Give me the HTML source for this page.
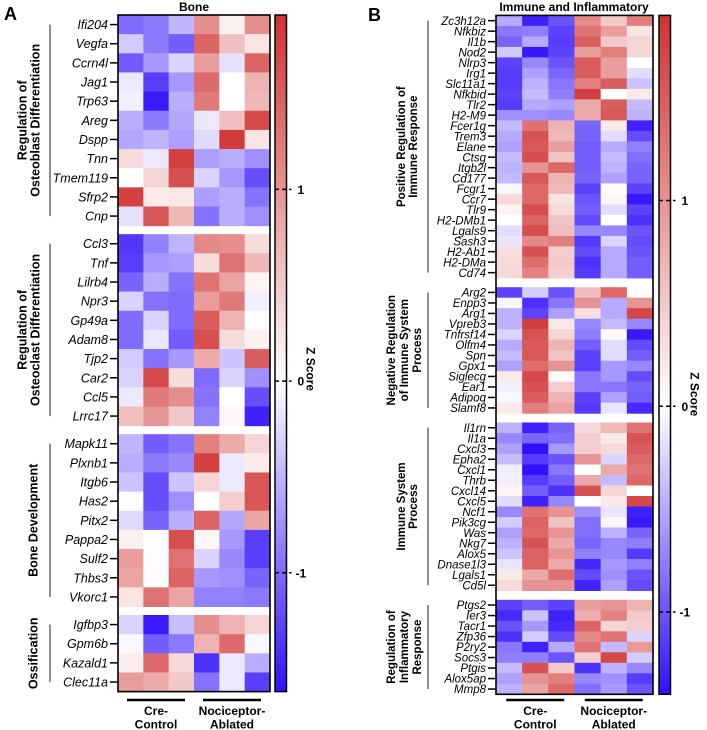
<!DOCTYPE html>
<html><head><meta charset="utf-8"><style>
body{margin:0;background:#fff;}
svg{display:block;font-family:"Liberation Sans",Arial,sans-serif;}
</style></head><body>
<svg id="chart" width="707" height="730" viewBox="0 0 707 730" xmlns="http://www.w3.org/2000/svg">
<defs>
<linearGradient id="gA" x1="0" y1="0" x2="0" y2="1">
<stop offset="0" stop-color="rgb(208,50,50)"/><stop offset="0.541" stop-color="#fff"/><stop offset="1" stop-color="rgb(48,16,250)"/></linearGradient>
<linearGradient id="gB" x1="0" y1="0" x2="0" y2="1">
<stop offset="0" stop-color="rgb(208,50,50)"/><stop offset="0.5758" stop-color="#fff"/><stop offset="1" stop-color="rgb(48,16,250)"/></linearGradient>
</defs>
<text x="4" y="20" font-size="18" font-weight="bold">A</text>
<text x="368" y="21" font-size="18" font-weight="bold">B</text>
<text x="194" y="11" font-size="12" font-weight="bold" text-anchor="middle">Bone</text>
<text x="574" y="11" font-size="12" font-weight="bold" text-anchor="middle">Immune and Inflammatory</text>
</svg>
<script>
const genesA1=["Ifi204","Vegfa","Ccrn4l","Jag1","Trp63","Areg","Dspp","Tnn","Tmem119","Sfrp2","Cnp"];
const valsA1=[[-1.0,-0.9,-0.5,1.05,0.13,1.05],[-0.35,-0.9,-1.1,1.44,0.59,0.26],[-1.1,-0.7,-0.3,0.92,-0.2,1.44],[-0.15,-1.3,-0.7,1.38,0.0,0.72],[-0.1,-1.55,-0.55,1.24,0.0,0.66],[-0.55,-0.9,-0.6,-0.15,0.59,1.7],[-0.6,-0.5,-0.65,-0.25,1.83,0.26],[0.33,-0.15,1.77,-0.65,-0.55,-0.75],[0.0,0.39,1.64,-0.3,-0.7,-1.2],[1.77,0.2,0.23,-0.65,-0.55,-0.95],[-0.2,1.57,0.66,-0.95,-0.55,-0.75]];
const genesA2=["Ccl3","Tnf","Lilrb4","Npr3","Gp49a","Adam8","Tjp2","Car2","Ccl5","Lrrc17"];
const valsA2=[[-1.35,-0.85,-0.5,1.11,1.05,0.33],[-1.3,-0.7,-0.65,0.33,1.31,0.66],[-1.05,-0.55,-0.95,1.31,0.85,0.1],[-0.3,-0.95,-1.0,0.92,1.24,-0.1],[-1.0,-0.3,-1.0,1.51,0.72,0.03],[-1.0,-0.15,-1.1,1.64,0.33,0.13],[-0.35,-0.95,-0.7,0.79,-0.4,1.51],[-0.3,1.7,0.33,-1.0,-0.3,-0.75],[-0.15,1.24,1.05,-0.95,0.0,-1.2],[0.59,0.98,0.52,-0.85,0.07,-1.5]];
const genesA3=["Mapk11","Plxnb1","Itgb6","Has2","Pitx2","Pappa2","Sulf2","Thbs3","Vkorc1"];
const valsA3=[[-0.5,-1.1,-0.95,1.18,0.79,0.39],[-0.55,-0.9,-0.8,1.77,-0.15,0.2],[-0.4,-1.2,-0.4,0.39,-0.15,1.57],[0.03,-1.2,-0.75,0.0,0.46,1.57],[-0.25,-1.05,-0.55,1.44,-0.6,0.85],[0.13,0.0,1.64,0.07,-0.7,-1.3],[0.92,0.03,1.31,-0.3,-0.8,-1.3],[0.85,0.03,1.44,-0.7,-0.75,-1.05],[0.26,1.31,0.85,-0.85,-0.85,-0.9]];
const genesA4=["Igfbp3","Gpm6b","Kazald1","Clec11a"];
const valsA4=[[-0.3,-1.55,-0.45,1.05,0.72,0.39],[-0.05,-1.1,-0.9,0.72,1.38,-0.05],[0.16,1.38,0.36,-1.4,-0.15,-0.55],[0.92,0.79,0.52,-0.95,-0.15,-1.3]];
const genesB1=["Zc3h12a","Nfkbiz","Il1b","Nod2","Nlrp3","Irg1","Slc11a1","Nfkbid","Tlr2","H2-M9","Fcer1g","Trem3","Elane","Ctsg","Itgb2l","Cd177","Fcgr1","Ccr7","Tlr9","H2-DMb1","Lgals9","Sash3","H2-Ab1","H2-DMa","Cd74"];
const valsB1=[[-0.5,-1.3,-1.0,1.1,0.5,1.2],[-0.8,-0.75,-1.1,1.3,0.9,0.25],[-0.9,-0.5,-1.15,1.5,0.5,0.4],[-0.3,-1.35,-1.1,0.9,1.2,0.4],[-1.1,-0.7,-1.0,1.5,0.9,0.0],[-1.15,-0.55,-0.9,1.5,0.9,-0.2],[-1.15,-0.45,-0.8,1.2,1.5,-0.35],[-1.1,-0.4,-0.75,1.8,0.0,0.2],[-1.15,-0.5,-0.55,0.8,1.5,-0.4],[-0.65,-0.65,-0.7,0.8,1.55,-0.45],[-0.4,1.3,0.7,-0.9,0.2,-1.3],[-0.5,1.6,0.65,-0.9,-0.2,-1.05],[-0.55,1.55,0.9,-0.95,-0.5,-0.75],[-0.4,1.65,0.55,-0.95,-0.4,-0.85],[-0.45,1.0,1.4,-0.95,-0.45,-0.9],[-0.4,1.55,0.7,-0.9,-0.55,-0.9],[-0.05,1.4,0.65,-1.1,0.05,-1.1],[0.35,1.4,0.25,-1.0,0.1,-1.35],[0.1,1.65,0.35,-0.95,-0.2,-1.1],[0.0,1.45,0.55,-1.05,0.0,-1.2],[-0.2,1.65,0.6,-0.7,-0.7,-1.0],[-0.15,1.1,1.2,-1.15,-0.25,-1.05],[0.3,1.6,0.45,-1.05,-0.5,-1.0],[0.35,1.35,0.5,-1.2,-0.5,-0.95],[0.35,1.15,0.45,-1.15,-0.5,-0.95]];
const genesB2=["Arg2","Enpp3","Arg1","Vpreb3","Tnfrsf14","Olfm4","Spn","Gpx1","Siglecg","Ear1","Adipoq","Slamf8"];
const valsB2=[[-1.1,-0.3,-1.0,0.6,1.4,0.05],[-0.05,-1.2,-0.8,1.0,-0.5,1.0],[-0.45,-1.1,-0.55,0.3,-0.5,1.7],[-0.45,1.8,0.2,-0.7,-0.4,-0.7],[-0.25,1.6,0.4,-0.75,0.05,-1.35],[-0.5,1.55,0.7,-0.95,-0.2,-1.05],[-0.4,1.55,0.55,-1.1,-0.2,-0.95],[-0.55,1.35,1.0,-1.1,-0.6,-0.7],[0.2,1.7,0.05,-0.8,-0.6,-1.05],[-0.1,1.6,0.45,-0.8,-0.8,-0.9],[-0.05,1.5,0.7,-1.1,-0.55,-0.95],[0.2,1.2,0.85,-1.15,-0.15,-1.25]];
const genesB3=["Il1rn","Il1a","Cxcl3","Epha2","Cxcl1","Thrb","Cxcl14","Cxcl5","Ncf1","Pik3cg","Was","Nkg7","Alox5","Dnase1l3","Lgals1","Cd5l"];
const valsB3=[[-0.45,-1.3,-0.9,0.35,0.65,1.3],[-0.7,-0.9,-0.85,0.45,0.2,1.6],[-0.55,-1.4,-0.6,0.45,0.35,1.5],[-0.4,-1.15,-1.0,1.0,-0.25,1.4],[-0.1,-1.4,-0.8,0.0,0.8,1.3],[-0.1,-1.15,-0.95,0.8,-0.4,1.4],[0.1,-0.95,-1.2,1.6,0.4,0.0],[-0.2,-1.3,-0.7,0.0,0.2,1.7],[-0.7,1.3,1.0,-0.65,-0.15,-1.3],[-0.3,1.45,0.55,-0.85,0.1,-1.35],[-0.55,1.4,1.0,-0.85,-0.45,-0.9],[-0.45,1.6,0.8,-0.9,-0.7,-0.75],[-0.35,1.45,1.0,-0.75,-0.7,-1.15],[-0.15,1.45,0.8,-1.25,-0.6,-0.75],[0.2,0.8,1.35,-1.05,-0.65,-1.0],[0.35,1.0,1.0,-1.3,-0.55,-1.05]];
const genesB4=["Ptgs2","Ier3","Tacr1","Zfp36","P2ry2","Socs3","Ptgis","Alox5ap","Mmp8"];
const valsB4=[[-1.1,-0.95,-1.1,0.9,1.0,0.7],[-1.25,-0.35,-1.3,0.75,1.15,0.5],[-1.0,-0.6,-1.25,1.45,0.4,0.45],[-1.2,-0.3,-1.05,1.1,1.3,-0.25],[-0.8,-1.3,-0.5,1.3,-0.4,0.95],[-0.75,-0.75,-1.0,0.45,1.7,-0.3],[-0.4,1.6,0.5,-1.2,-0.45,-0.7],[-0.55,1.0,1.2,-0.7,-0.65,-1.15],[-0.45,0.85,1.4,-0.85,-0.6,-1.0]];
const ticksZ=[1,0,-1];
const tickLabels=["1","0","-1"];

const NS="http://www.w3.org/2000/svg";
const svg=document.getElementById('chart');
function mk(tag,attrs,parent){const e=document.createElementNS(NS,tag);for(const k in attrs)e.setAttribute(k,attrs[k]);(parent||svg).appendChild(e);return e;}
function color(v,mx,mn){
  if(v>=0){const t=Math.min(v/mx,1);return `rgb(${Math.round(255+(208-255)*t)},${Math.round(255+(50-255)*t)},${Math.round(255+(50-255)*t)})`;}
  const t=Math.min(v/mn,1);return `rgb(${Math.round(255+(48-255)*t)},${Math.round(255+(16-255)*t)},${Math.round(255+(250-255)*t)})`;
}
function panel(cfg){
  const g=mk('g',{});
  
  
  const cw=(cfg.x1-cfg.x0)/6;
  let y=cfg.top;
  cfg.groups.forEach((grp,gi)=>{
    const y0=y;
    grp.vals.forEach((row,ri)=>{
      row.forEach((v,ci)=>{
        const r=mk('rect',{x:cfg.x0+ci*cw,y:y,width:cw+0.5,height:cfg.rh+0.5,fill:color(v,cfg.max,cfg.min)},g);
        
        
      });
      const t=mk('text',{x:cfg.x0-10,y:y+cfg.rh/2+cfg.fs*0.36,'font-size':cfg.fs,'font-style':'italic','text-anchor':'end'},g);
      t.textContent=grp.genes[ri];
      
      
      mk('line',{x1:cfg.x0-8,x2:cfg.x0,y1:y+cfg.rh/2,y2:y+cfg.rh/2,stroke:'#000','stroke-width':1.5},g);
      y+=cfg.rh;
    });
    const y1=y;
    const br=mk('line',{x1:cfg.bx,x2:cfg.bx,y1:y0+cfg.rh*0.5,y2:y1-cfg.rh*0.5,stroke:'#555','stroke-width':1.3},g);
    
    
    const cy=(y0+y1)/2;
    grp.label.forEach((ln,li)=>{
      const lx=grp.lx[li];
      const t=mk('text',{x:lx,y:cy,'font-size':cfg.gfs,'font-weight':'bold','text-anchor':'middle',transform:`rotate(-90 ${lx} ${cy})`,'dominant-baseline':'middle'},g);
      t.textContent=ln;
      
      
    });
    if(gi<cfg.groups.length-1)y+=cfg.gap;
  });
  const bottom=y;
  mk('rect',{x:cfg.x0,y:cfg.top,width:cfg.x1-cfg.x0,height:bottom-cfg.top,fill:'none',stroke:'#000','stroke-width':1.6},g);
  const cb=mk('rect',{x:cfg.cbx,y:cfg.top,width:cfg.cbw,height:bottom-cfg.top,fill:cfg.grad,stroke:'#000','stroke-width':1.5},g);
  
  
  const sc=v=>cfg.top+(cfg.max-v)/(cfg.max-cfg.min)*(bottom-cfg.top);
  ticksZ.forEach((tv,i)=>{
    const ty=sc(tv);
    mk('line',{x1:cfg.cbx,x2:cfg.cbx+cfg.cbw+5,y1:ty,y2:ty,stroke:'#000','stroke-width':1.5,'stroke-dasharray':'4,3'},g);
    const t=mk('text',{x:cfg.cbx+cfg.cbw+(tv<0?9:11),y:ty+4.5,'font-size':12,'font-weight':'bold'},g);
    t.textContent=tickLabels[i];
    
    
  });
  const zx=cfg.cbx+cfg.cbw+20, zy=sc(0)-12;
  const z=mk('text',{x:zx,y:zy,'font-size':12,'font-weight':'bold','text-anchor':'middle',transform:`rotate(90 ${zx} ${zy})`},g);
  z.textContent='Z Score';
  
  
  const cx=[cfg.x0+cw*1.5,cfg.x0+cw*4.5];
  const names=[["Cre-","Control"],["Nociceptor-","Ablated"]];
  cx.forEach((c,i)=>{
    mk('line',{x1:c-29,x2:c+29,y1:700,y2:700,stroke:'#000','stroke-width':2.5},g);
    names[i].forEach((n,j)=>{
      const t=mk('text',{x:c,y:715+j*13.5,'font-size':12,'font-weight':'bold','text-anchor':'middle'},g);
      t.textContent=n;
      
      
    });
  });
}
panel({name:'bone-heatmap',x0:118,x1:270,top:15,rh:19.15,gap:8.5,max:1.91,min:-1.62,fs:12.5,gfs:12.5,bx:50,cbx:275,cbw:11.5,grad:'url(#gA)',
  groups:[{genes:genesA1,vals:valsA1,label:["Regulation of","Osteoblast Differentiation"],lx:[23,36]},
          {genes:genesA2,vals:valsA2,label:["Regulation of","Osteoclast Differentiation"],lx:[23,36]},
          {genes:genesA3,vals:valsA3,label:["Bone Development"],lx:[34]},
          {genes:genesA4,vals:valsA4,label:["Ossification"],lx:[34]}]});
panel({name:'immune-heatmap',x0:496,x1:653,top:15.4,rh:10.5,gap:9.3,max:1.9,min:-1.4,fs:11.5,gfs:11.5,bx:428,cbx:659,cbw:11.5,grad:'url(#gB)',
  groups:[{genes:genesB1,vals:valsB1,label:["Positive Regulation of","Immune Response"],lx:[402,414]},
          {genes:genesB2,vals:valsB2,label:["Negative Regulation","of Immune System","Process"],lx:[392,405,418]},
          {genes:genesB3,vals:valsB3,label:["Immune System","Process"],lx:[402,414]},
          {genes:genesB4,vals:valsB4,label:["Regulation of","Inflammatory","Response"],lx:[392,405,418]}]});
</script>
</body></html>
